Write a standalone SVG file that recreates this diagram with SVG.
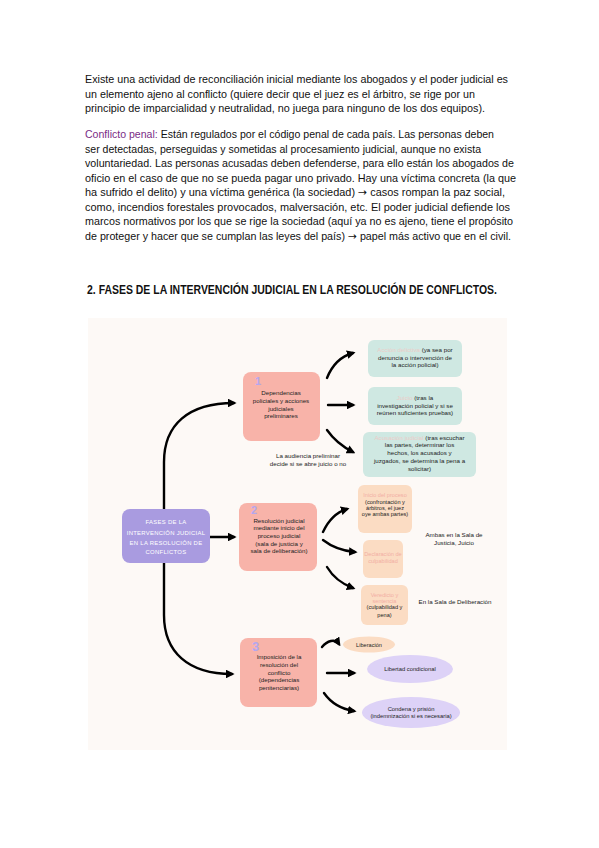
<svg xmlns="http://www.w3.org/2000/svg" width="599" height="848" viewBox="0 0 599 848">
<defs>
<style>
.body{font-family:"Liberation Sans","Noto Sans",sans-serif;font-size:10.5px;fill:#111}
.arr{font-family:"DejaVu Sans",sans-serif}
.head{font-family:"Liberation Sans","Noto Sans",sans-serif;font-size:12.5px;font-weight:bold;fill:#111}
.pur{fill:#7a2c86}
.t{font-family:"Liberation Sans","DejaVu Sans",sans-serif;font-size:6.2px;fill:#222;text-anchor:middle}
.tw{font-family:"Liberation Sans","DejaVu Sans",sans-serif;font-size:5.9px;fill:#ffffff;text-anchor:middle;letter-spacing:0.3px}
.faintT{fill:#ecccc8}
.faintO{fill:#f2aea4}
.num{font-family:"Liberation Sans","DejaVu Sans",sans-serif;font-size:11px;font-weight:bold;fill:#b4a7ee}
.pink{fill:#f8b3a9}
.teal{fill:#cfe8e2}
.peach{fill:#fbdcc3}
.lav{fill:#ddd2f7}
.con{fill:none;stroke:#000;stroke-width:2.4;stroke-linecap:round}
</style>
<marker id="ah" viewBox="0 0 10 10" refX="7" refY="5" markerWidth="3.6" markerHeight="3.6" orient="auto" markerUnits="strokeWidth">
<path d="M0,0 L10,5 L0,10 z" fill="#000"/>
</marker>
</defs>
<rect width="599" height="848" fill="#ffffff"/>

<g id="text-top">
<text class="body" x="85" y="83" textLength="423" lengthAdjust="spacingAndGlyphs">Existe una actividad de reconciliación inicial mediante los abogados y el poder judicial es</text>
<text class="body" x="85" y="97.5" textLength="390" lengthAdjust="spacingAndGlyphs">un elemento ajeno al conflicto (quiere decir que el juez es el árbitro, se rige por un</text>
<text class="body" x="85" y="112" textLength="400" lengthAdjust="spacingAndGlyphs">principio de imparcialidad y neutralidad, no juega para ninguno de los dos equipos).</text>

<text class="body" x="85" y="138" textLength="409" lengthAdjust="spacingAndGlyphs"><tspan class="pur">Conflicto penal:</tspan> Están regulados por el código penal de cada país. Las personas deben</text>
<text class="body" x="85" y="152.5" textLength="396" lengthAdjust="spacingAndGlyphs">ser detectadas, perseguidas y sometidas al procesamiento judicial, aunque no exista</text>
<text class="body" x="85" y="167" textLength="429" lengthAdjust="spacingAndGlyphs">voluntariedad. Las personas acusadas deben defenderse, para ello están los abogados de</text>
<text class="body" x="85" y="181.5" textLength="431" lengthAdjust="spacingAndGlyphs">oficio en el caso de que no se pueda pagar uno privado. Hay una víctima concreta (la que</text>
<text class="body" x="85" y="196" textLength="420" lengthAdjust="spacingAndGlyphs">ha sufrido el delito) y una víctima genérica (la sociedad) <tspan class="arr">→</tspan> casos rompan la paz social,</text>
<text class="body" x="85" y="210.5" textLength="425" lengthAdjust="spacingAndGlyphs">como, incendios forestales provocados, malversación, etc. El poder judicial defiende los</text>
<text class="body" x="85" y="225" textLength="428" lengthAdjust="spacingAndGlyphs">marcos normativos por los que se rige la sociedad (aquí ya no es ajeno, tiene el propósito</text>
<text class="body" x="85" y="239.5" textLength="426" lengthAdjust="spacingAndGlyphs">de proteger y hacer que se cumplan las leyes del país) <tspan class="arr">→</tspan> papel más activo que en el civil.</text>

<text class="head" x="87" y="294" textLength="410" lengthAdjust="spacingAndGlyphs">2. FASES DE LA INTERVENCIÓN JUDICIAL EN LA RESOLUCIÓN DE CONFLICTOS.</text>
</g>

<rect x="88" y="318" width="419" height="432" fill="#fdf9f6"/>

<g id="connectors">
<path class="con" marker-end="url(#ah)" d="M164,509 L164,462 C164,425 188,403 234,403"/>
<path class="con" marker-end="url(#ah)" d="M210,537 L234,537"/>
<path class="con" marker-end="url(#ah)" d="M164,563 L164,615 C164,652 188,674 232,674"/>
<path class="con" marker-end="url(#ah)" d="M327,378 C333,363 342,356 353,353"/>
<path class="con" marker-end="url(#ah)" d="M328,405 L353,405"/>
<path class="con" marker-end="url(#ah)" d="M327,430 C334,440 343,447 353,452"/>
<path class="con" marker-end="url(#ah)" d="M323,532 C329,519 337,512 347,509"/>
<path class="con" marker-end="url(#ah)" d="M323,540 C332,547 343,551 355,552"/>
<path class="con" marker-end="url(#ah)" d="M327,567 C333,577 342,584 353,588"/>
<path class="con" marker-end="url(#ah)" d="M322,647 C327,641 335,638 339,644"/>
<path class="con" marker-end="url(#ah)" d="M327,673 L354,673"/>
<path class="con" marker-end="url(#ah)" d="M324,693 C331,703 341,709 354,711"/>
</g>

<g id="main">
<rect x="122" y="509" width="88" height="54" rx="8" fill="#a99be0"/>
<text class="tw" x="166" y="524">FASES DE LA</text>
<text class="tw" x="166" y="534.5">INTERVENCIÓN JUDICIAL</text>
<text class="tw" x="166" y="544.5">EN LA RESOLUCIÓN DE</text>
<text class="tw" x="166" y="554">CONFLICTOS</text>
</g>

<g id="fase1">
<rect class="pink" x="243" y="372" width="77" height="69" rx="8"/>
<text class="num" x="255" y="385">1</text>
<text class="t" x="281" y="395">Dependencias</text>
<text class="t" x="281" y="403">policiales y acciones</text>
<text class="t" x="281" y="411">judiciales</text>
<text class="t" x="281" y="418">preliminares</text>
</g>

<g id="fase2">
<rect class="pink" x="239" y="503" width="78" height="68" rx="8"/>
<text class="num" x="251" y="514">2</text>
<text class="t" x="279" y="522.5">Resolución judicial</text>
<text class="t" x="279" y="530">mediante inicio del</text>
<text class="t" x="279" y="538">proceso judicial</text>
<text class="t" x="279" y="546">(sala de justicia y</text>
<text class="t" x="279" y="553">sala de deliberación)</text>
</g>

<g id="fase3">
<rect class="pink" x="240" y="638" width="77" height="69" rx="8"/>
<text class="num" x="252" y="651" style="font-size:13px">3</text>
<text class="t" x="279" y="659">Imposición de la</text>
<text class="t" x="279" y="667">resolución del</text>
<text class="t" x="279" y="675">conflicto</text>
<text class="t" x="279" y="682">(dependencias</text>
<text class="t" x="279" y="690">penitenciarias)</text>
</g>

<g id="accion-delictiva">
<rect class="teal" x="368" y="340" width="94" height="37" rx="6"/>
<text class="t" x="415" y="352"><tspan class="faintT">Acción delictiva</tspan> (ya sea por</text>
<text class="t" x="415" y="360">denuncia o intervención de</text>
<text class="t" x="415" y="367">la acción policial)</text>
</g>

<g id="juicio">
<rect class="teal" x="368" y="387" width="94" height="38" rx="6"/>
<text class="t" x="415" y="400"><tspan class="faintT">Juicio</tspan> (tras la</text>
<text class="t" x="415" y="407.5">investigación policial y si se</text>
<text class="t" x="415" y="415">reúnen suficientes pruebas)</text>
</g>

<g id="acusacion">
<rect class="teal" x="363" y="432" width="113" height="45" rx="6"/>
<text class="t" x="419.5" y="439.5"><tspan class="faintT">Acusación judicial</tspan> (tras escuchar</text>
<text class="t" x="419.5" y="447">las partes, determinar los</text>
<text class="t" x="419.5" y="455">hechos, los acusados y</text>
<text class="t" x="419.5" y="463">juzgados, se determina la pena a</text>
<text class="t" x="419.5" y="470.5">solicitar)</text>
</g>

<g id="audiencia">
<text class="t" x="308" y="458">La audiencia preliminar</text>
<text class="t" x="308" y="466">decide si se abre juicio o no</text>
</g>

<g id="inicio">
<rect class="peach" x="358" y="485" width="54" height="48" rx="6"/>
<text class="t" x="385" y="497" style="font-size:5.6px"><tspan class="faintO">Inicio del proceso</tspan></text>
<text class="t" x="385" y="504" style="font-size:5.6px">(confrontación y</text>
<text class="t" x="385" y="510" style="font-size:5.6px">árbitros, el juez</text>
<text class="t" x="385" y="516" style="font-size:5.6px">oye ambas partes)</text>
</g>

<g id="declaracion">
<rect class="peach" x="363" y="540" width="40" height="38" rx="6"/>
<text class="t" x="383" y="556" style="font-size:5.6px;fill:#f2aea4">Declaración de</text>
<text class="t" x="383" y="563" style="font-size:5.6px;fill:#f2aea4">culpabilidad</text>
</g>

<g id="veredicto">
<rect class="peach" x="361" y="585" width="47" height="40" rx="6"/>
<text class="t" x="384.5" y="597" style="font-size:5.6px;fill:#f2aea4">Veredicto y</text>
<text class="t" x="384.5" y="603" style="font-size:5.6px;fill:#f2aea4">sentencia</text>
<text class="t" x="384.5" y="609" style="font-size:5.6px">(culpabilidad y</text>
<text class="t" x="384.5" y="617" style="font-size:5.6px">pena)</text>
</g>

<g id="ambas">
<text class="t" x="454" y="537">Ambas en la Sala de</text>
<text class="t" x="454" y="545">Justicia, Juicio</text>
</g>

<g id="deliberacion">
<text class="t" x="455" y="604">En la Sala de Deliberación</text>
</g>

<g id="liberacion">
<ellipse class="peach" cx="369" cy="644.5" rx="26" ry="8"/>
<text class="t" x="369" y="646.5" style="font-size:5.6px">Liberación</text>
</g>

<g id="libertad">
<ellipse class="lav" cx="410" cy="669" rx="43" ry="14"/>
<text class="t" x="410" y="671" style="font-size:5.8px">Libertad condicional</text>
</g>

<g id="condena">
<ellipse class="lav" cx="411" cy="712.5" rx="49" ry="15.5"/>
<text class="t" x="411" y="710.5" style="font-size:5.8px">Condena y prisión</text>
<text class="t" x="411" y="718" style="font-size:5.8px">(indemnización si es necesaria)</text>
</g>
</svg>
